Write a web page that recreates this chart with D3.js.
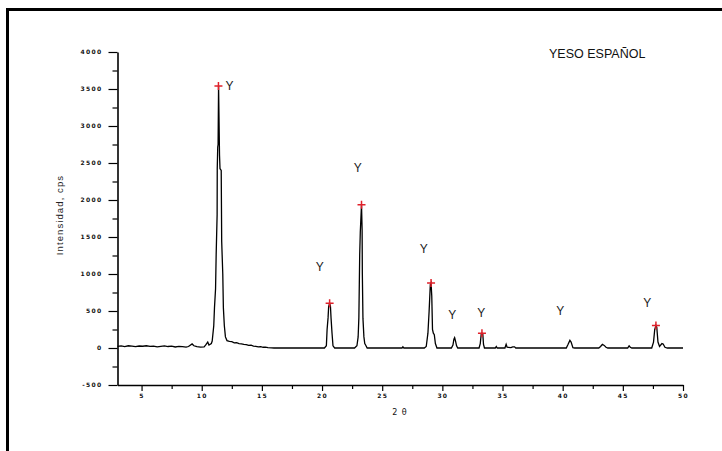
<!DOCTYPE html>
<html>
<head>
<meta charset="utf-8">
<script src="https://cdn.jsdelivr.net/npm/d3@7"></script>
<style>
  body { margin: 0; background: #fff; }
  svg { display: block; }
  .tick text { font-family: "DejaVu Sans", sans-serif; }
</style>
</head>
<body>
<svg id="chart"></svg>
<script>
// diffractogram: [2 theta, counts per second]
var scan = [
  [3.0, 22], [3.3, 28], [3.6, 20], [3.9, 30], [4.2, 25], [4.5, 18], [4.8, 27], [5.1, 24],
  [5.4, 30], [5.7, 22], [6.0, 26], [6.3, 15], [6.6, 22], [6.9, 28], [7.2, 20], [7.5, 26],
  [7.8, 14], [8.1, 22], [8.4, 18], [8.7, 12], [8.9, 20], [9.2, 55], [9.35, 30], [9.6, 18],
  [9.9, 12], [10.2, 16], [10.35, 45], [10.5, 80], [10.6, 40], [10.8, 60],
  [10.87, 94], [11.0, 300], [11.06, 542], [11.15, 800], [11.2, 1259], [11.28, 1800],
  [11.29, 2423], [11.33, 2715], [11.36, 2750], [11.4, 3540], [11.48, 2600], [11.52, 2423],
  [11.62, 2400], [11.66, 1438], [11.75, 1000], [11.8, 542], [11.88, 300], [11.97, 150],
  [12.1, 100], [12.3, 90], [12.5, 85], [12.7, 70], [12.9, 72], [13.1, 60], [13.3, 55],
  [13.5, 48], [13.7, 45], [13.9, 35], [14.1, 38], [14.3, 25], [14.5, 22], [14.7, 15],
  [14.9, 18], [15.1, 10], [15.3, 12], [15.5, 6], [15.8, 3], [16.0, 0],
  [20.2, 0], [20.36, 30], [20.42, 250], [20.5, 407], [20.55, 560], [20.63, 605],
  [20.7, 560], [20.75, 400], [20.83, 200], [20.91, 30], [21.05, 0],
  [22.7, 0], [22.9, 30], [23.0, 150], [23.06, 407], [23.13, 1260], [23.18, 1570],
  [23.28, 1935], [23.33, 1600], [23.35, 1000], [23.4, 400], [23.48, 150], [23.55, 60],
  [23.62, 40], [23.75, 0],
  [26.65, 0], [26.72, 15], [26.8, 0],
  [28.5, 0], [28.66, 20], [28.8, 200], [28.9, 500], [29.0, 860], [29.06, 880], [29.12, 700],
  [29.18, 250], [29.25, 200], [29.33, 180], [29.42, 60], [29.55, 0],
  [30.75, 0], [30.88, 40], [30.96, 120], [31.02, 140], [31.1, 90], [31.18, 30], [31.28, 0],
  [33.05, 0], [33.15, 60], [33.23, 190], [33.29, 200], [33.36, 190], [33.42, 50], [33.5, 0],
  [34.4, 0], [34.48, 20], [34.56, 0],
  [35.2, 0], [35.3, 50], [35.38, 10], [35.7, 5], [35.85, 15], [36.0, 15], [36.1, 0],
  [40.3, 0], [40.45, 50], [40.6, 103], [40.7, 80], [40.85, 5], [41.0, 0],
  [43.0, 0], [43.15, 20], [43.3, 50], [43.45, 35], [43.6, 10], [43.75, 0],
  [45.4, 0], [45.52, 30], [45.62, 10], [45.75, 0],
  [47.4, 0], [47.55, 80], [47.65, 250], [47.75, 305], [47.82, 280], [47.92, 80], [48.05, 20],
  [48.25, 60], [48.35, 55], [48.5, 10], [48.7, 0], [50.0, 0]
]

// red crosses on the identified peaks
var peakAngles = [11.39, 20.63, 23.28, 29.06, 33.29, 47.75]
var peakCounts = [3540, 605, 1935, 880, 200, 305]

// "Y" (yeso) markers, anchored in data units
var labelAngles = [12.3, 19.82, 22.97, 28.46, 30.82, 33.23, 39.79, 47.02]
var labelCounts = [3481, 1035, 2379, 1290, 390, 417, 444, 551]

var yTicks = [-500, 0, 500, 1000, 1500, 2000, 2500, 3000, 3500, 4000]
var yMinor = [-250, 250, 750, 1250, 1750, 2250, 2750, 3250, 3750]
var xTicks = [5, 10, 15, 20, 25, 30, 35, 40, 45, 50]
var xMinor = [7.5, 12.5, 17.5, 22.5, 27.5, 32.5, 37.5, 42.5, 47.5]

var title = 'YESO ESPAÑOL'
var xTitle = '2 θ'
var yTitle = 'Intensidad, cps'

var W = 722, H = 451

var svg = d3.select('#chart')
    .attr('width', W)
    .attr('height', H)

// outer frame (only top and left edges show in the picture)
svg.append('path')
    .attr('d', 'M7.5,' + H + 'V9.5H' + W)
    .attr('fill', 'none')
    .attr('stroke', '#000')
    .attr('stroke-width', 3)

var x = d3.scaleLinear().domain([3, 50]).range([117.5, 683])
var y = d3.scaleLinear().domain([-500, 4000]).range([385, 52])

function spaced(s) { return s.split('').join(' ') }

// y axis
var yAxis = svg.append('g')
    .attr('transform', 'translate(' + x(3) + ',0)')
    .call(d3.axisLeft(y).tickValues(yTicks).tickSize(9).tickSizeOuter(0).tickPadding(6)
      .tickFormat(function(d) { return String(d) }))

svg.append('g')
    .attr('transform', 'translate(' + x(3) + ',0)')
    .call(d3.axisLeft(y).tickValues(yMinor).tickSize(5).tickFormat(''))
    .select('.domain').remove()

// x axis
var xAxis = svg.append('g')
    .attr('transform', 'translate(0,' + y(-500) + ')')
    .call(d3.axisBottom(x).tickValues(xTicks).tickSize(6).tickSizeOuter(0).tickPadding(3))

svg.append('g')
    .attr('transform', 'translate(0,' + y(-500) + ')')
    .call(d3.axisBottom(x).tickValues(xMinor).tickSize(4).tickFormat(''))
    .select('.domain').remove()

svg.selectAll('.domain').attr('stroke', '#000').attr('stroke-width', 1.6)
svg.selectAll('.tick line').attr('stroke', '#000').attr('stroke-width', 1.2)
svg.selectAll('.tick text')
    .attr('fill', '#111')
    .style('font-size', '6px')
    .style('font-weight', 'bold')
    .style('letter-spacing', '1.3px')

// axis titles
svg.append('text')
    .attr('x', 400)
    .attr('y', 415)
    .attr('text-anchor', 'middle')
    .style('font-family', '"DejaVu Sans", sans-serif')
    .style('font-size', '8px')
    .style('letter-spacing', '1px')
    .attr('fill', '#111')
    .text(xTitle)

svg.append('text')
    .attr('transform', 'translate(63,215) rotate(-90)')
    .attr('text-anchor', 'middle')
    .style('font-family', '"Liberation Sans", Arial, sans-serif')
    .style('font-size', '9.5px')
    .style('letter-spacing', '1.1px')
    .attr('fill', '#222')
    .text(yTitle)

// title
svg.append('text')
    .attr('x', 549)
    .attr('y', 58)
    .style('font-family', '"Liberation Sans", Arial, sans-serif')
    .style('font-size', '12.5px')
    .attr('fill', '#111')
    .text(title)

// pattern
var line = d3.line()
    .x(function(d) { return x(d[0]) })
    .y(function(d) { return y(d[1]) })

svg.append('path')
    .datum(scan)
    .attr('d', line)
    .attr('fill', 'none')
    .attr('stroke', '#000')
    .attr('stroke-width', 1.3)
    .attr('stroke-linejoin', 'miter')

// peak crosses
var crosses = svg.selectAll('.cross')
    .data(d3.range(peakAngles.length))
  .enter().append('path')
    .attr('class', 'cross')
    .attr('d', function(i) {
      var cx = x(peakAngles[i]), cy = y(peakCounts[i])
      return 'M' + (cx - 4) + ',' + cy + 'H' + (cx + 4) + 'M' + cx + ',' + (cy - 4) + 'V' + (cy + 4)
    })
    .attr('stroke', '#e0202a')
    .attr('stroke-width', 1.5)

// Y labels
svg.selectAll('.ylab')
    .data(d3.range(labelAngles.length))
  .enter().append('text')
    .attr('class', 'ylab')
    .attr('x', function(i) { return x(labelAngles[i]) })
    .attr('y', function(i) { return y(labelCounts[i]) })
    .attr('text-anchor', 'middle')
    .style('font-family', '"Liberation Sans", Arial, sans-serif')
    .style('font-size', '12px')
    .attr('fill', '#222')
    .text('Y')
</script>
</body>
</html>
